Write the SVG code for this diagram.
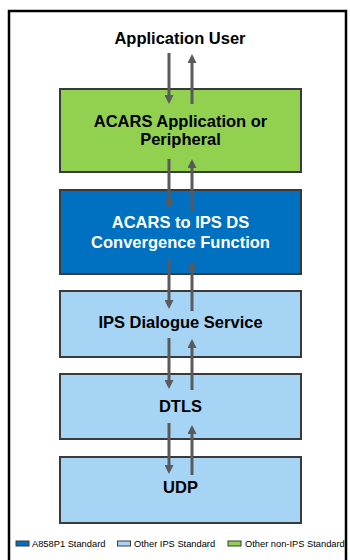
<svg xmlns="http://www.w3.org/2000/svg" width="350" height="560" viewBox="0 0 350 560">
<defs>
<marker id="ah" viewBox="0 0 10 10" refX="6.7" refY="5" markerWidth="3" markerHeight="3" orient="auto" markerUnits="strokeWidth">
<path d="M0,0 L10,5 L0,10 z" fill="#5a5a5a"/>
</marker>
<style>
.box{stroke:#3a3a3a;stroke-width:2}
.t{font-family:"Liberation Sans",Arial,sans-serif;font-weight:bold;font-size:16.5px;text-anchor:middle;fill:#000}
.w{fill:#fff}
.c{stroke:#5a5a5a;stroke-width:3;fill:none;marker-end:url(#ah)}
.lg{font-family:"Liberation Sans",Arial,sans-serif;font-size:9.3px;fill:#000}
.sw{stroke:#3a3a3a;stroke-width:1}
</style>
</defs>
<rect x="0" y="0" width="350" height="560" fill="#fff"/>
<rect x="9" y="11" width="337" height="560" fill="#fff" stroke="#000" stroke-width="2.5"/>
<g id="user"><text class="t" x="180" y="44">Application User</text></g>
<g id="acars-app"><rect class="box" x="60" y="89" width="241" height="83" fill="#92D050"/>
<text class="t" x="180.5" y="127">ACARS Application or</text>
<text class="t" x="180.5" y="145">Peripheral</text></g>
<g id="convergence"><rect class="box" x="60" y="190" width="241" height="84" fill="#0070C0"/>
<text class="t w" x="180.5" y="228">ACARS to IPS DS</text>
<text class="t w" x="180.5" y="248">Convergence Function</text></g>
<g id="ipsds"><rect class="box" x="60" y="291" width="241" height="66" fill="#A5D4F5"/>
<text class="t" x="180.5" y="328">IPS Dialogue Service</text></g>
<g id="dtls"><rect class="box" x="60" y="374" width="241" height="65" fill="#A5D4F5"/>
<text class="t" x="180.5" y="412">DTLS</text></g>
<g id="udp"><rect class="box" x="60" y="457" width="241" height="66" fill="#A5D4F5"/>
<text class="t" x="180.5" y="493">UDP</text></g>
<g id="connectors">
<line class="c" x1="169" y1="53" x2="169" y2="101"/>
<line class="c" x1="192" y1="104" x2="192" y2="57"/>
<line class="c" x1="169" y1="159" x2="169" y2="206"/>
<line class="c" x1="192" y1="211" x2="192" y2="162"/>
<line class="c" x1="169" y1="259" x2="169" y2="306"/>
<line class="c" x1="192" y1="311" x2="192" y2="264"/>
<line class="c" x1="169" y1="338" x2="169" y2="386"/>
<line class="c" x1="192" y1="390" x2="192" y2="342"/>
<line class="c" x1="169" y1="423" x2="169" y2="471"/>
<line class="c" x1="192" y1="475" x2="192" y2="428"/>
</g>
<g id="legend">
<rect class="sw" x="16" y="541" width="13" height="5" fill="#0070C0"/>
<text class="lg" x="32" y="547">A858P1 Standard</text>
<rect class="sw" x="117.5" y="541" width="13" height="5" fill="#A5D4F5"/>
<text class="lg" x="134" y="547">Other IPS Standard</text>
<rect class="sw" x="228" y="541" width="13" height="5" fill="#92D050"/>
<text class="lg" x="245" y="547">Other non-IPS Standard</text>
</g>
</svg>
